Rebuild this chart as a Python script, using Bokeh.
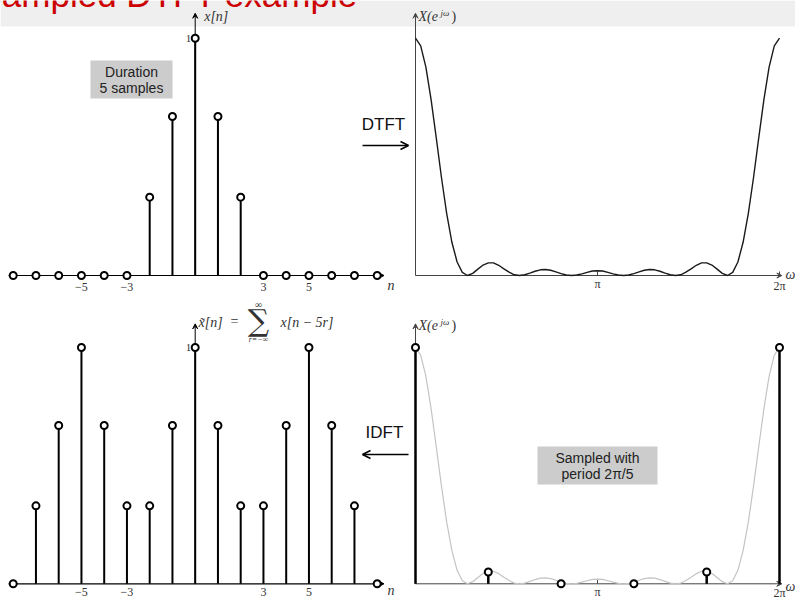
import numpy as np
from bokeh.plotting import figure
from bokeh.models import Range1d, Arrow, VeeHead, OpenHead
from bokeh.core.properties import value
from bokeh.embed import file_html
from bokeh.resources import INLINE

# ---------------- data ----------------
n_idx = list(range(-8, 9))
x_n = [0, 0, 0, 0, 0, 0, 0.33, 0.67, 1.0, 0.67, 0.33, 0, 0, 0, 0, 0, 0]
x_per = [0, 0.33, 0.67, 1.0, 0.67, 0.33, 0.33, 0.67, 1.0, 0.67, 0.33,
         0.33, 0.67, 1.0, 0.67, 0.33, 0]
n_ticks = [-5, -3, 3, 5]
n_tick_labels = ["−5", "−3", "3", "5"]

dtft_mag = [1.000, 0.968, 0.878, 0.741, 0.579, 0.412, 0.261, 0.140, 0.057, 0.013,
            0.000, 0.009, 0.027, 0.044, 0.053, 0.053, 0.043, 0.028, 0.014, 0.003,
            0.000, 0.003, 0.010, 0.018, 0.024, 0.025, 0.022, 0.015, 0.008, 0.002,
            0.000, 0.002, 0.007, 0.013, 0.019, 0.020, 0.019, 0.013, 0.007, 0.002,
            0.000, 0.002, 0.008, 0.015, 0.022, 0.025, 0.024, 0.018, 0.010, 0.003,
            0.000, 0.003, 0.014, 0.028, 0.043, 0.053, 0.053, 0.044, 0.027, 0.009,
            0.000, 0.013, 0.057, 0.140, 0.261, 0.412, 0.579, 0.741, 0.878, 0.968, 1.000]
omega = np.linspace(0, 2 * np.pi, len(dtft_mag))

dft_k = [0, 1, 2, 3, 4, 5]
dft_mag = [1.0, 0.05, 0.0, 0.0, 0.05, 1.0]
dft_omega = [2 * np.pi * k / 5 for k in dft_k]

w_ticks = [np.pi, 2 * np.pi]
w_tick_labels = ["π", "2π"]

# ---------------- layout (reference pixel geometry) ----------------
W_REF, H_REF = 795, 598
N0, NS = 194.7, 22.75             # n=0 position and spacing
W0, WS = 415.0, 364.0 / (2 * np.pi)
TB, TS = 275.0, 237.3             # top panels baseline / unit
BB, BS = 583.3, 236.3             # bottom panels baseline / unit

def xr(o, s):
    return Range1d(start=(0 - o) / s, end=(W_REF - o) / s)

def yr(o, s):
    return Range1d(start=(o - H_REF) / s, end=o / s)

p = figure(width=W_REF, height=H_REF, x_range=Range1d(0, W_REF), y_range=Range1d(H_REF, 0),
           output_backend="svg", toolbar_location=None, min_border=0,
           x_axis_location=None, y_axis_location=None)
p.grid.visible = False
p.outline_line_color = None
p.background_fill_color = "white"
p.border_fill_color = "white"
p.extra_x_ranges = {"n": xr(N0, NS), "w": xr(W0, WS)}
p.extra_y_ranges = {"top": yr(TB, TS), "bot": yr(BB, BS)}

SERIF = value("Liberation Serif")
SANS = value("Liberation Sans")
TXT = "#333333"

# title band
p.quad(left=0, right=W_REF, top=0, bottom=26, fill_color="#efefef", line_color=None, level="underlay")
p.text(x=[-22], y=[-6], text=["Sampled DTFT example"], text_font=SANS, text_font_size="35px",
       text_color="#cc0000", text_baseline="alphabetic", text_align="left")

def axis_arrow(x0, y0, x1, y1, xn, yn, lw=1.0, color="black"):
    a = Arrow(x_start=x0, y_start=y0, x_end=x1, y_end=y1, x_range_name=xn, y_range_name=yn,
              line_width=lw, line_color=color,
              end=VeeHead(size=5, line_width=1, line_color=color, fill_color=color),
              level="underlay")
    p.add_layout(a)

def label(x, y, t, xn="default", yn="default", size="14px", italic=False, align="left",
          font=SERIF, color=TXT):
    kw = {}
    if xn != "default":
        kw["x_range_name"] = xn
    if yn != "default":
        kw["y_range_name"] = yn
    p.text(x=x, y=y, text=t, text_font=font, text_font_size=size,
           text_font_style="italic" if italic else "normal",
           text_align=align, text_baseline="middle", text_color=color, **kw)

# ---------- top-left: x[n] ----------
axis_arrow(-8.2, 0, 8.3, 0, "n", "top", 1.2)
axis_arrow(0, 0, 0, 1.105, "n", "top", 1.0)
p.segment(x0=n_idx, y0=[0] * len(n_idx), x1=n_idx, y1=x_n, line_width=2, line_color="black",
          x_range_name="n", y_range_name="top")
p.scatter(n_idx, x_n, size=7, fill_color="white", line_color="black", line_width=2,
          x_range_name="n", y_range_name="top")
label(n_ticks, [-11 / TS] * 4, n_tick_labels, "n", "top", "12px", align="center")
label([-4 / NS], [1.0], ["1"], "n", "top", "11px", align="right")
label([8.45], [-10 / TS], ["n"], "n", "top", "14px", italic=True)
label([9 / NS], [1.09], ["x[n]"], "n", "top", "14px", italic=True)

# ---------- bottom-left: periodic x~[n] ----------
axis_arrow(-8.2, 0, 8.3, 0, "n", "bot", 1.2)
axis_arrow(0, 0, 0, 1.1, "n", "bot", 1.0)
p.segment(x0=n_idx, y0=[0] * len(n_idx), x1=n_idx, y1=x_per, line_width=2, line_color="black",
          x_range_name="n", y_range_name="bot")
p.scatter(n_idx, x_per, size=7, fill_color="white", line_color="black", line_width=2,
          x_range_name="n", y_range_name="bot")
label(n_ticks, [-8.5 / BS] * 4, n_tick_labels, "n", "bot", "12px", align="center")
label([-4 / NS], [1.0], ["1"], "n", "bot", "11px", align="right")
label([8.45], [-7 / BS], ["n"], "n", "bot", "14px", italic=True)
# equation label  x~[n] = sum_{r=-inf}^{inf} x[n-5r]
label([198], [322], ["x̃[n]"], size="14px", italic=True)
label([230], [321], ["="], size="14px")
label([258], [320], ["∑"], size="30px", align="center", font=value("DejaVu Serif"))
label([258], [304], ["∞"], size="10px", align="center")
label([258], [339], ["r=−∞"], size="8px", italic=True, align="center")
label([280], [322], ["x[n − 5r]"], size="14px", italic=True)

# ---------- top-right: DTFT ----------
axis_arrow(0, 0, 2 * np.pi + 0.04, 0, "w", "top", 1.0, "#444")
axis_arrow(0, 0, 0, 1.105, "w", "top", 1.0, "#444")
p.segment(x0=w_ticks, y0=[0, 0], x1=w_ticks, y1=[4 / TS, 4 / TS], line_color="#444", line_width=1,
          x_range_name="w", y_range_name="top")
p.line(omega, dtft_mag, line_color="#1a1a1a", line_width=1.4, x_range_name="w", y_range_name="top")
label(w_ticks, [-8 / TS, -10 / TS], w_tick_labels, "w", "top", "12px", align="center")
label([2 * np.pi + 6 / WS], [1 / TS], ["ω"], "w", "top", "14px", italic=True)
label([3 / WS], [1.09], ["X(e"], "w", "top", "14px", italic=True)
label([25 / WS], [1.105], ["jω"], "w", "top", "9px", italic=True)
label([36 / WS], [1.09], [")"], "w", "top", "14px")

# ---------- bottom-right: sampled DTFT ----------
axis_arrow(0, 0, 2 * np.pi + 0.04, 0, "w", "bot", 1.0, "#444")
axis_arrow(0, 0, 0, 1.1, "w", "bot", 1.0, "#444")
p.segment(x0=w_ticks, y0=[0, 0], x1=w_ticks, y1=[4 / BS, 4 / BS], line_color="#444", line_width=1,
          x_range_name="w", y_range_name="bot")
p.line(omega, dtft_mag, line_color="#c4c4c4", line_width=1.2, x_range_name="w", y_range_name="bot")
p.segment(x0=dft_omega, y0=[0] * len(dft_k), x1=dft_omega, y1=dft_mag, line_width=2.5,
          line_color="black", x_range_name="w", y_range_name="bot")
p.scatter(dft_omega, dft_mag, size=7, fill_color="white", line_color="black", line_width=2,
          x_range_name="w", y_range_name="bot")
label(w_ticks, [-8 / BS, -9 / BS], w_tick_labels, "w", "bot", "12px", align="center")
label([2 * np.pi + 6 / WS], [-3 / BS], ["ω"], "w", "bot", "14px", italic=True)
label([3 / WS], [1.095], ["X(e"], "w", "bot", "14px", italic=True)
label([25 / WS], [1.11], ["jω"], "w", "bot", "9px", italic=True)
label([36 / WS], [1.095], [")"], "w", "bot", "14px")

# ---------- annotation boxes ----------
p.quad(left=[90, 537], right=[172, 657], top=[60, 446], bottom=[98, 484],
       fill_color="#cccccc", line_color=None)
label([131, 131, 597, 597], [71, 87, 457, 473],
      ["Duration", "5 samples", "Sampled with", "period 2π/5"],
      size="14px", align="center", font=SANS, color="#222222")

# ---------- transform arrows ----------
label([383, 384], [124, 432], ["DTFT", "IDFT"], size="17px", align="center", font=SANS,
      color="#111111")
p.add_layout(Arrow(x_start=362, y_start=145, x_end=408, y_end=145, line_width=1.5,
                   end=OpenHead(size=8, line_width=1.5)))
p.add_layout(Arrow(x_start=408, y_start=454, x_end=362, y_end=454, line_width=1.5,
                   end=OpenHead(size=8, line_width=1.5)))

open("out.html", "w").write(file_html(p, INLINE))
